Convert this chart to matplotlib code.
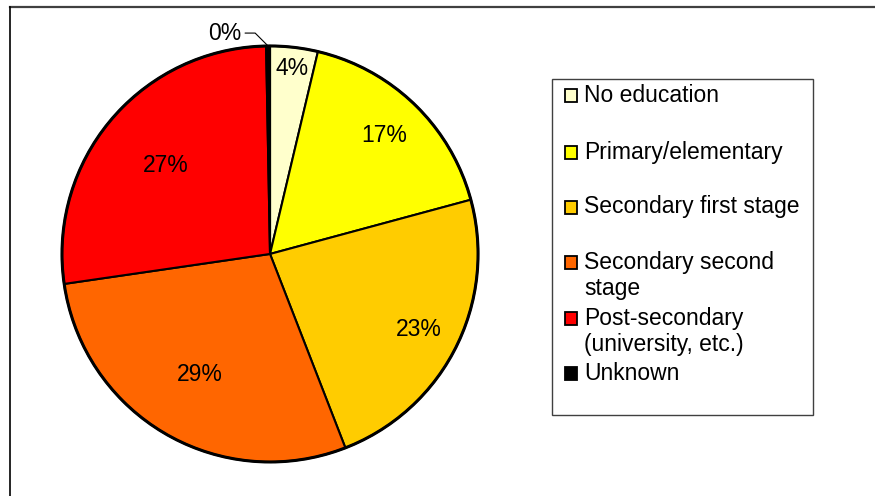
import numpy as np
import matplotlib.pyplot as plt
from matplotlib.patches import Rectangle

plt.rcParams['font.family'] = ['Liberation Sans', 'DejaVu Sans']

categories = ['No education', 'Primary/elementary', 'Secondary first stage',
              'Secondary second\nstage', 'Post-secondary\n(university, etc.)', 'Unknown']
shares = [3.7, 17.1, 23.3, 28.6, 27.0, 0.3]
colors = ['#FFFFCC', '#FFFF00', '#FFCC00', '#FF6600', '#FF0000', '#000000']

# label distance from centre (fraction of radius), per slice
label_r = [0.90, 0.79, 0.80, 0.67, 0.66, None]
FS = 16.5

fig = plt.figure(figsize=(8.75, 4.96), dpi=100)

# pixel-space overlay for frame and legend
bg = fig.add_axes([0, 0, 1, 1])
bg.set_xlim(0, 875)
bg.set_ylim(496, 0)
bg.axis('off')
bg.plot([10, 875], [7, 7], color='#404040', lw=1.6)
bg.plot([10, 10], [7, 496], color='black', lw=1.2)

# pie
ax = fig.add_axes([0.0661, 0.0602, 0.485, 0.8555])
wedges, _ = ax.pie(shares, colors=colors, startangle=90, counterclock=False,
                   wedgeprops=dict(edgecolor='black', linewidth=1.5))
ax.add_patch(plt.Circle((0, 0), 1, fill=False, ec='black', lw=2.2))
ax.set_xlim(-1.02, 1.02)
ax.set_ylim(-1.02, 1.02)
ax.set_aspect('auto')

for w, v, r in zip(wedges, shares, label_r):
    if r is None:
        continue
    ang = np.deg2rad((w.theta1 + w.theta2) / 2)
    ax.text(r * np.cos(ang), r * np.sin(ang), '%.0f%%' % v,
            ha='center', va='center', fontsize=FS)

# label for the tiny "Unknown" slice with leader line
ang = np.deg2rad((wedges[-1].theta1 + wedges[-1].theta2) / 2)
tip = (np.cos(ang), np.sin(ang))
ax.annotate('%.0f%%' % shares[-1], xy=tip, xytext=(-0.14, 1.062),
            ha='right', va='center', fontsize=FS,
            arrowprops=dict(arrowstyle='-', color='black', lw=0.8,
                            connectionstyle='angle,angleA=0,angleB=135,rad=0',
                            shrinkA=1, shrinkB=0))

# legend box
bg.add_patch(Rectangle((552, 79), 261, 336, fill=False, ec='#404040', lw=1.0))
ys = [95, 152, 207, 275.5, 331.5, 373]
for lab, c, y in zip(categories, colors, ys):
    nlines = lab.count('\n') + 1
    ytop = y - (nlines - 1) * 13.5
    bg.add_patch(Rectangle((565, ytop - 6.5), 12, 13, fc=c, ec='black', lw=1.3))
    bg.text(584, y, lab, ha='left', va='center', fontsize=FS, linespacing=1.18)

fig.savefig('out.png', dpi=100)
